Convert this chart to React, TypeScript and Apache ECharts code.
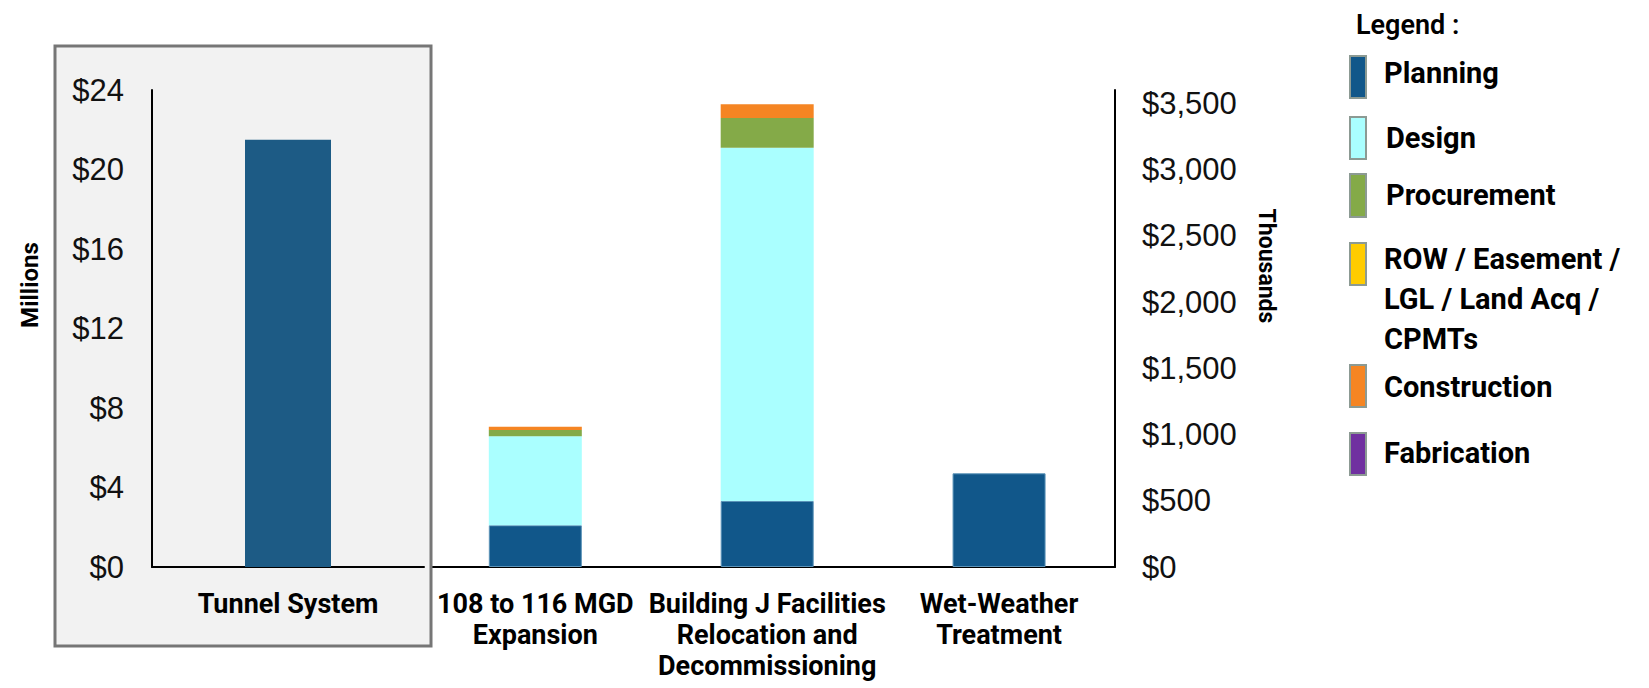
import React, { useEffect, useRef } from "react";
import * as echarts from "echarts";

// Left chart (Millions) – Tunnel System
const tunnelCategories = ["Tunnel System"];
const tunnelPlanning = [21.5];

// Right chart (Thousands)
const categories = [
  "",
  "108 to 116 MGD\nExpansion",
  "Building J Facilities\nRelocation and\nDecommissioning",
  "Wet-Weather\nTreatment",
];
const planning = [null, 315, 498, 707];
const design = [null, 671, 2666, null];
const procurement = [null, 48, 225, null];
const rowEasement = [null, null, null, null];
const construction = [null, 25, 103, null];
const fabrication = [null, null, null, null];

const leftTicks = { min: 0, max: 24, interval: 4 };
const rightTicks = { min: 0, max: 3600, interval: 500 };

const legendItems = [
  { name: "Planning", color: "#11578a" },
  { name: "Design", color: "#aaffff" },
  { name: "Procurement", color: "#84aa48" },
  { name: "ROW / Easement /\nLGL / Land Acq /\nCPMTs", color: "#ffcc00" },
  { name: "Construction", color: "#f58523" },
  { name: "Fabrication", color: "#7030a0" },
];

const BOLD = "Roboto, 'Noto Sans', sans-serif";
const TICK = "'Liberation Sans', Arial, sans-serif";

export default function App() {
  const ref = useRef<HTMLDivElement>(null);

  useEffect(() => {
    if (!ref.current) return;
    const chart = echarts.init(ref.current, undefined, { renderer: "svg" });

    const mkRight = (name: string, data: (number | null)[], color: string, border?: string) => ({
      name,
      type: "bar",
      xAxisIndex: 1,
      yAxisIndex: 1,
      stack: "right",
      barWidth: 93,
      z: 2,
      data: data.map((v) => (v == null ? "-" : v)),
      itemStyle: border ? { color, borderColor: border, borderWidth: 1 } : { color },
    });

    // legend layout: icon top/height, text centre y
    const legendPos = [
      { iy: 56, ih: 42, ty: 73, tx: 1384 },
      { iy: 117, ih: 42, ty: 138, tx: 1386 },
      { iy: 174, ih: 43, ty: 195, tx: 1386 },
      { iy: 243, ih: 42, ty: 299, tx: 1384 },
      { iy: 365, ih: 42, ty: 387, tx: 1384 },
      { iy: 433, ih: 42, ty: 453, tx: 1384 },
    ];

    const legendGraphics: any[] = [];
    legendItems.forEach((it, i) => {
      const p = legendPos[i];
      legendGraphics.push({
        type: "rect",
        z: 10,
        shape: { x: 1350, y: p.iy, width: 16, height: p.ih },
        style: { fill: it.color, stroke: "#8c9a93", lineWidth: 2 },
        silent: true,
      });
      legendGraphics.push({
        type: "text",
        z: 10,
        x: p.tx,
        y: p.ty,
        style: {
          text: it.name,
          fontSize: 29,
          fontWeight: "bold",
          fontFamily: BOLD,
          fill: "#000",
          align: "left",
          verticalAlign: "middle",
          lineHeight: 40,
        },
        silent: true,
      });
    });

    const axisLineStyle = { show: true, lineStyle: { color: "#000", width: 2 } };
    const catLabel = {
      interval: 0,
      margin: 21,
      color: "#000",
      fontSize: 27,
      fontWeight: "bold",
      fontFamily: BOLD,
      lineHeight: 31,
    };
    const tickLabel = { color: "#111", fontSize: 31, fontFamily: TICK };

    const option: any = {
      animation: false,
      backgroundColor: "#ffffff",
      grid: [
        { left: 152, right: 1649 - 424, top: 90, bottom: 121 },
        { left: 187.5, right: 534, top: 90, bottom: 121 },
      ],
      xAxis: [
        {
          type: "category",
          gridIndex: 0,
          data: tunnelCategories,
          z: 5,
          axisLine: axisLineStyle,
          axisTick: { show: false },
          axisLabel: catLabel,
        },
        {
          type: "category",
          gridIndex: 1,
          data: categories,
          z: 0,
          axisLine: axisLineStyle,
          axisTick: { show: false },
          axisLabel: catLabel,
        },
      ],
      yAxis: [
        {
          type: "value",
          gridIndex: 0,
          position: "left",
          z: 5,
          min: leftTicks.min,
          max: leftTicks.max,
          interval: leftTicks.interval,
          axisLine: axisLineStyle,
          axisTick: { show: false },
          splitLine: { show: false },
          axisLabel: { ...tickLabel, margin: 28, formatter: (v: number) => "$" + v },
        },
        {
          type: "value",
          gridIndex: 1,
          position: "right",
          z: 5,
          min: rightTicks.min,
          max: rightTicks.max,
          interval: rightTicks.interval,
          axisLine: axisLineStyle,
          axisTick: { show: false },
          splitLine: { show: false },
          axisLabel: {
            ...tickLabel,
            margin: 27,
            showMaxLabel: false,
            formatter: (v: number) => (v === 3600 ? "" : "$" + v.toLocaleString("en-US")),
          },
        },
      ],
      series: [
        {
          name: "Tunnel System Planning",
          type: "bar",
          xAxisIndex: 0,
          yAxisIndex: 0,
          barWidth: 86,
          z: 5,
          data: tunnelPlanning,
          itemStyle: { color: "#1d5b85" },
        },
        mkRight("Planning", planning, "#11578a", "#5b93b8"),
        mkRight("Design", design, "#aaffff"),
        mkRight("Procurement", procurement, "#84aa48"),
        mkRight("ROW / Easement / LGL / Land Acq / CPMTs", rowEasement, "#ffcc00"),
        mkRight("Construction", construction, "#f58523"),
        mkRight("Fabrication", fabrication, "#7030a0"),
      ],
      graphic: [
        {
          type: "rect",
          z: 1,
          silent: true,
          shape: { x: 55, y: 46, width: 376, height: 600 },
          style: { fill: "#f2f2f2", stroke: "#767676", lineWidth: 3 },
        },
        {
          type: "text",
          z: 10,
          x: 30,
          y: 285,
          rotation: Math.PI / 2,
          style: {
            text: "Millions",
            fontSize: 24,
            fontWeight: "bold",
            fontFamily: BOLD,
            fill: "#000",
            align: "center",
            verticalAlign: "middle",
          },
          silent: true,
        },
        {
          type: "text",
          z: 10,
          x: 1266,
          y: 266,
          rotation: -Math.PI / 2,
          style: {
            text: "Thousands",
            fontSize: 23,
            fontWeight: "bold",
            fontFamily: BOLD,
            fill: "#000",
            align: "center",
            verticalAlign: "middle",
          },
          silent: true,
        },
        {
          type: "text",
          z: 10,
          x: 1356,
          y: 25,
          style: {
            text: "Legend :",
            fontSize: 27,
            fontWeight: 600,
            fontFamily: BOLD,
            fill: "#000",
            align: "left",
            verticalAlign: "middle",
          },
          silent: true,
        },
        ...legendGraphics,
      ],
    };

    chart.setOption(option);
    return () => chart.dispose();
  }, []);

  return (
    <div
      ref={ref}
      style={{ position: "fixed", left: 0, top: 0, width: 1649, height: 688, background: "#fff" }}
    />
  );
}
